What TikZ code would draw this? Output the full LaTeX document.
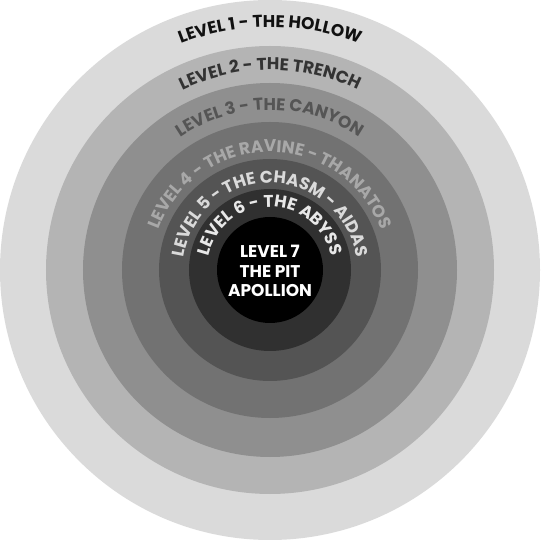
\documentclass[tikz,border=0pt]{standalone}
\usepackage{fontspec}
\setmainfont{Poppins}
\usetikzlibrary{decorations.text}
\definecolor{ringA}{HTML}{DADADA}
\definecolor{ringB}{HTML}{B4B4B4}
\definecolor{ringC}{HTML}{8F8F8F}
\definecolor{ringD}{HTML}{727272}
\definecolor{ringE}{HTML}{545454}
\definecolor{ringF}{HTML}{303030}
\definecolor{ringG}{HTML}{000000}
\definecolor{txtA}{HTML}{111111}
\definecolor{txtB}{HTML}{333333}
\definecolor{txtC}{HTML}{555555}
\definecolor{txtD}{HTML}{A8A8A8}
\definecolor{txtE}{HTML}{DADADA}
\definecolor{txtF}{HTML}{E8E8E8}
\begin{document}
\begin{tikzpicture}[x=1pt,y=1pt,
  ringfill/.style={fill=#1, draw=none},
  centertext/.style={align=center, text=white, font=\bfseries\fontsize{17}{19.5}\selectfont, inner sep=0pt}]
\useasboundingbox (-270,-270) rectangle (270,270);
\fill[ringfill=ringA] (0,0) circle[radius=270pt];
\fill[ringfill=ringB] (0,0) circle[radius=224pt];
\fill[ringfill=ringC] (0,0) circle[radius=187pt];
\fill[ringfill=ringD] (0,0) circle[radius=148pt];
\fill[ringfill=ringE] (0,0) circle[radius=111pt];
\fill[ringfill=ringF] (0,0) circle[radius=81pt];
\fill[ringfill=ringG] (0,0) circle[radius=53pt];
\path[decorate, decoration={text along path, text align=center,
  text={|\bfseries\fontsize{17}{17}\selectfont\color{txtA}|LEVEL 1 - THE HOLLOW}}]
  (180:243pt) arc[start angle=180, end angle=0, radius=243pt];
\path[decorate, decoration={text along path, text align=center,
  text={|\bfseries\fontsize{17}{17}\selectfont\color{txtB}|LEVEL 2 - THE TRENCH}}]
  (180:200pt) arc[start angle=180, end angle=0, radius=200pt];
\path[decorate, decoration={text along path, text align=center,
  text={|\bfseries\fontsize{17}{17}\selectfont\color{txtC}|LEVEL 3 - THE CANYON}}]
  (180:160pt) arc[start angle=180, end angle=0, radius=160pt];
\path[decorate, decoration={text along path, text align=center,
  text={|\bfseries\fontsize{17}{17}\selectfont\color{txtD}|LEVEL 4 - THE RAVINE - THANATOS}}]
  (180:118pt) arc[start angle=180, end angle=0, radius=118pt];
\path[decorate, decoration={text along path, text align=center,
  text={|\bfseries\fontsize{17}{17}\selectfont\color{txtE}|LEVEL 5 - THE CHASM - AIDAS}}]
  (180:87pt) arc[start angle=180, end angle=0, radius=87pt];
\path[decorate, decoration={text along path, text align=center,
  text={|\bfseries\fontsize{17}{17}\selectfont\color{txtF}|LEVEL 6 - THE ABYSS}}]
  (180:63pt) arc[start angle=180, end angle=0, radius=63pt];
\node[centertext] (lvl7) at (0,-1) {LEVEL 7\\THE PIT\\APOLLION};
\end{tikzpicture}
\end{document}
